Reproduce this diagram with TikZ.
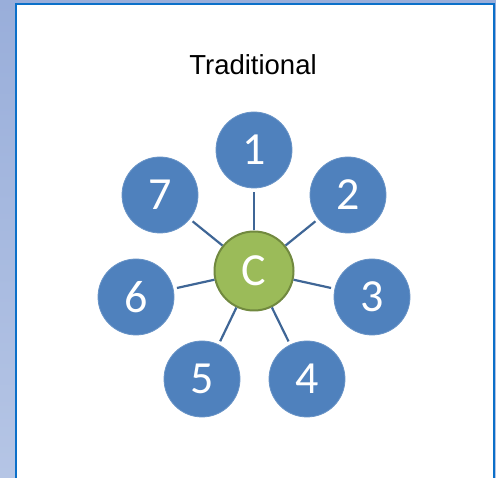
\documentclass[tikz,border=0pt]{standalone}
\usepackage{fontspec}
\setmainfont{Liberation Sans}
\newfontfamily\digitfont{Carlito}
\definecolor{bgtop}{HTML}{99AEDA}
\definecolor{bgbot}{HTML}{B5C5E5}
\definecolor{frameblue}{HTML}{0B70C9}
\definecolor{memberblue}{HTML}{4F81BD}
\definecolor{linkblue}{HTML}{3F6696}
\definecolor{centergreen}{HTML}{9BBB59}
\definecolor{centeredge}{HTML}{71893F}
\tikzset{
  member/.style={circle, fill=memberblue, draw=memberblue!85!white, line width=0.8pt,
    minimum size=76pt, inner sep=0pt, text=white, font=\digitfont\fontsize{46}{46}\selectfont},
  hub/.style={circle, fill=centergreen, draw=centeredge, line width=2pt,
    minimum size=79pt, inner sep=0pt, text=white, font=\digitfont\fontsize{46}{46}\selectfont},
  link/.style={draw=linkblue, line width=2.2pt, shorten >=3.5pt},
}
\begin{document}
\begin{tikzpicture}[x=1pt,y=-1pt]
  % page background with soft vertical gradient
  \shade[top color=bgtop, bottom color=bgbot] (0,0) rectangle (496,478);
  \useasboundingbox (0,0) rectangle (496,478);
  % white panel with blue frame
  \fill[white] (16,4) rectangle (494,480);
  \draw[frameblue, line width=2.4pt] (16,482) -- (16,4) -- (494,4) -- (494,482);

  \node (title) at (253,65) {\fontsize{27.5}{27.5}\selectfont Traditional};

  \node[hub] (c) at (254,271) {C};
  \node[member] (n1) at (254,150) {1};
  \node[member] (n2) at (348,195) {2};
  \node[member] (n3) at (372,297) {3};
  \node[member] (n4) at (307,379) {4};
  \node[member] (n5) at (202,379) {5};
  \node[member] (n6) at (136,297) {6};
  \node[member] (n7) at (160,195) {7};

  \foreach \m in {n1,n2,n3,n4,n5,n6,n7}
    \draw[link] (c) -- (\m);
\end{tikzpicture}
\end{document}
